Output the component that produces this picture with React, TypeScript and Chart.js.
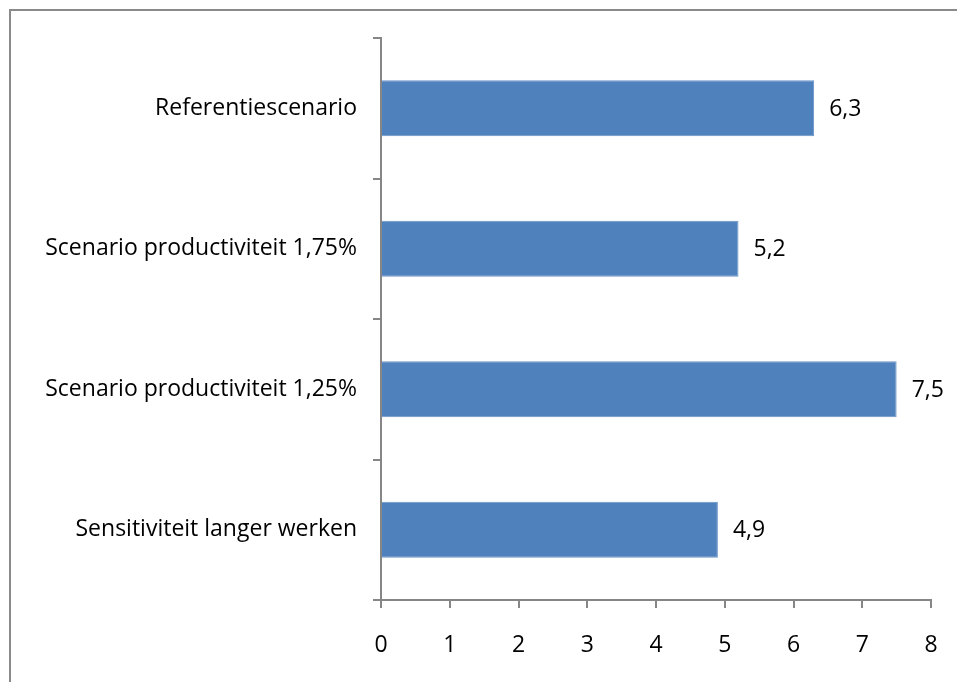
import React, { useEffect, useRef } from "react";
import { Chart, registerables } from "chart.js";

Chart.register(...registerables);

const categories = [
  "Referentiescenario",
  "Scenario productiviteit 1,75%",
  "Scenario productiviteit 1,25%",
  "Sensitiviteit langer werken",
];
const values = [6.3, 5.2, 7.5, 4.9];
const valueLabels = ["6,3", "5,2", "7,5", "4,9"];
const xTicks = [0, 1, 2, 3, 4, 5, 6, 7, 8];

const FONT = "'Open Sans'";
const FSIZE = 23;
const AXIS = "#868686";

const framePlugin = {
  id: "frame",
  beforeDraw(chart: any) {
    const ctx = chart.ctx;
    ctx.save();
    ctx.fillStyle = "#ffffff";
    ctx.fillRect(0, 0, chart.width, chart.height);
    ctx.strokeStyle = "#8a8a8a";
    ctx.lineWidth = 2;
    ctx.strokeRect(10, 10, chart.width + 20, chart.height + 20);
    ctx.restore();
  },
};

const labelPlugin = {
  id: "valueLabels",
  afterDatasetsDraw(chart: any) {
    const ctx = chart.ctx;
    const meta = chart.getDatasetMeta(0);
    ctx.save();
    ctx.fillStyle = "#000000";
    ctx.font = `${FSIZE}px ${FONT}`;
    ctx.textAlign = "left";
    ctx.textBaseline = "middle";
    meta.data.forEach((bar: any, i: number) => {
      ctx.fillText(valueLabels[i], bar.x + 15, bar.y + 1);
    });
    ctx.restore();
  },
};

export default function App() {
  const ref = useRef<HTMLCanvasElement>(null);
  useEffect(() => {
    document.body.style.margin = "0";
    const chart = new Chart(ref.current as HTMLCanvasElement, {
      type: "bar",
      data: {
        labels: categories,
        datasets: [
          {
            data: values,
            backgroundColor: "#4F81BD",
            borderColor: "#6A94C8",
            borderWidth: 1,
            barPercentage: 0.4,
            categoryPercentage: 1,
          },
        ],
      },
      options: {
        indexAxis: "y",
        animation: false,
        responsive: false,
        maintainAspectRatio: false,
        layout: { padding: { left: 0, top: 38, right: 26, bottom: 0 } },
        plugins: { legend: { display: false }, tooltip: { enabled: false } },
        scales: {
          x: {
            type: "linear",
            min: 0,
            max: 8,
            afterBuildTicks: (scale: any) => {
              scale.ticks = xTicks.map((v) => ({ value: v }));
            },
            afterFit: (scale: any) => {
              scale.height = 82;
              scale.paddingLeft = 0;
              scale.paddingRight = 0;
            },
            ticks: {
              color: "#000000",
              font: { family: FONT, size: FSIZE },
              padding: 24,
              maxRotation: 0,
            },
            grid: {
              drawOnChartArea: false,
              drawTicks: true,
              tickLength: 8,
              color: AXIS,
              lineWidth: 2,
            },
            border: { color: AXIS, width: 2 },
          },
          y: {
            afterFit: (scale: any) => {
              scale.width = 381;
              scale.paddingTop = 0;
              scale.paddingBottom = 0;
            },
            ticks: {
              color: "#000000",
              font: { family: FONT, size: FSIZE },
              padding: 16,
            },
            grid: {
              drawOnChartArea: false,
              drawTicks: true,
              tickLength: 8,
              color: AXIS,
              lineWidth: 2,
              offset: true,
            },
            border: { color: AXIS, width: 2 },
          },
        },
      },
      plugins: [framePlugin, labelPlugin],
    } as any);
    return () => chart.destroy();
  }, []);
  return (
    <div style={{ position: "absolute", left: 0, top: 0, width: 957, height: 682 }}>
      <canvas ref={ref} width={957} height={682} />
    </div>
  );
}
